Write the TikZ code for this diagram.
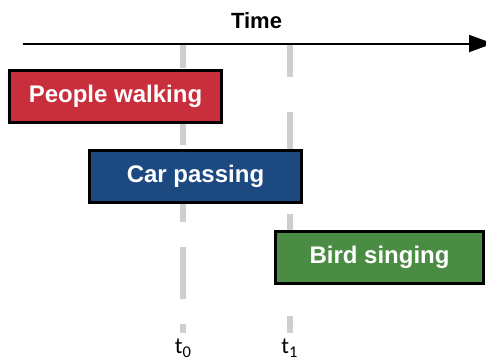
\documentclass[tikz,border=0pt]{standalone}
\usepackage{fontspec}
\setmainfont{Liberation Sans}
\newfontfamily\labelfont{Carlito}
\usetikzlibrary{arrows.meta}

\definecolor{walkred}{RGB}{201,46,60}
\definecolor{carblue}{RGB}{28,74,128}
\definecolor{birdgreen}{RGB}{74,140,68}
\definecolor{markgray}{RGB}{206,206,206}

\tikzset{
  eventbox/.style={draw=black, line width=3pt, rectangle, inner sep=0pt,
    minimum height=52pt, text=white,
    font=\fontsize{24}{28}\selectfont\bfseries},
  timemark/.style={draw=markgray, line width=6pt},
  marklabel/.style={anchor=base, inner sep=0pt, font=\labelfont\fontsize{23}{26}\selectfont},
}

\newcommand{\lowsub}[1]{\raisebox{-4.5pt}{\fontsize{16.5}{16.5}\selectfont #1}}

\begin{document}
\begin{tikzpicture}[x=1pt, y=-1pt]
  \clip (0,0) rectangle (486,360);

  % instants t0 and t1
  \coordinate (m0top) at (183,45);
  \coordinate (m0bot) at (183,333);
  \coordinate (m1top) at (289.5,45);
  \coordinate (m1bot) at (289.5,333);
  \draw[timemark, dash pattern=on 52pt off 25pt, dash phase=29pt] (m0top) -- (m0bot);
  \draw[timemark, dash pattern=on 67pt off 35pt, dash phase=35pt] (m1top) -- (m1bot);

  \node[marklabel] (l0) at (183,353) {t\lowsub{0}};
  \node[marklabel] (l1) at (289.5,353) {t\lowsub{1}};

  % time axis
  \coordinate (axstart) at (22.5,43.5);
  \coordinate (axend) at (493,43.5);
  \draw[line width=2pt, -{Triangle[length=24pt, width=17pt]}] (axstart) -- (axend);
  \node[anchor=base, inner sep=0pt, font=\fontsize{22}{26}\selectfont\bfseries] (time) at (256.5,28.3) {Time};

  % sound events
  \node[eventbox, fill=walkred, minimum width=212pt] (walk) at (115.5,96) {People walking};
  \node[eventbox, fill=carblue, minimum width=212pt] (car) at (195.5,176.5) {Car passing};
  \node[eventbox, fill=birdgreen, minimum width=208pt] (bird) at (379.5,257) {Bird singing};
\end{tikzpicture}
\end{document}
